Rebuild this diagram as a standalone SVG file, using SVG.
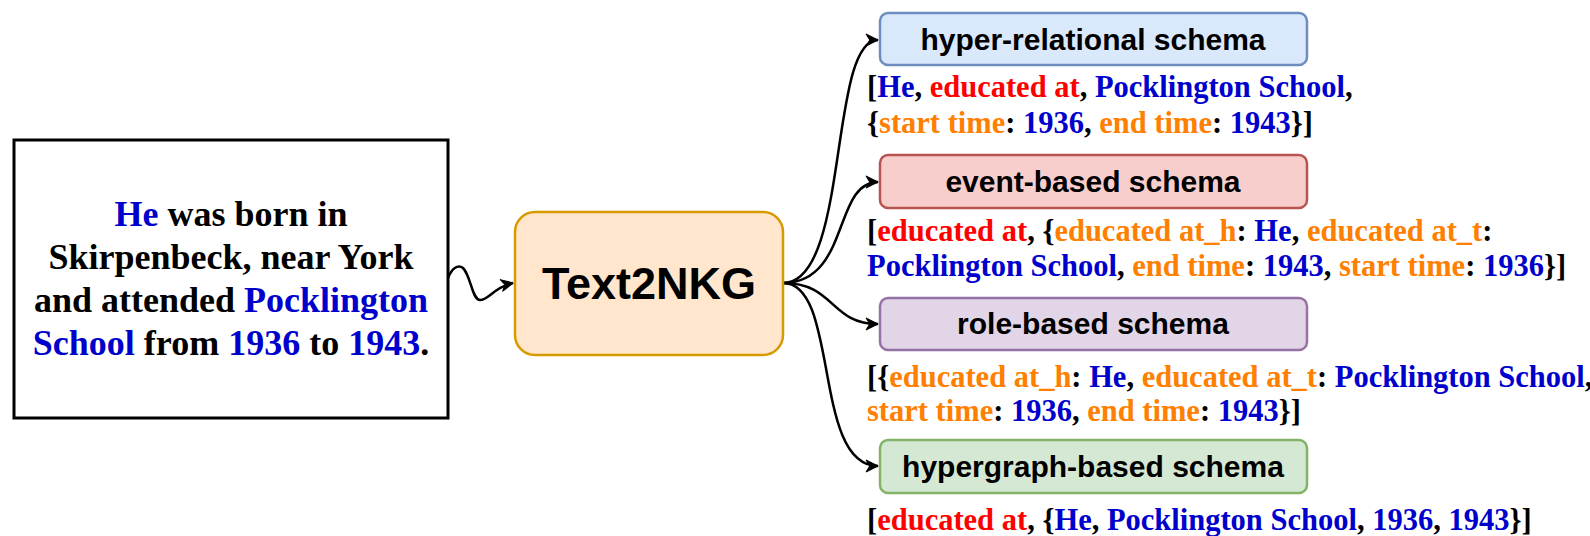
<svg xmlns="http://www.w3.org/2000/svg" width="1590" height="536" viewBox="0 0 1590 536">
<style>
.bg{fill:#ffffff}
.src{fill:#ffffff;stroke:#000000;stroke-width:3}
.srctxt{font-family:"Liberation Serif","Times New Roman",serif;font-weight:bold;font-size:36px;fill:#000000;text-anchor:middle}
.core{fill:#ffe6cc;stroke:#d79b00;stroke-width:2.5}
.coretxt{font-family:"Liberation Sans",Arial,sans-serif;font-weight:bold;font-size:45px;fill:#000000;text-anchor:middle}
.lbl{font-family:"Liberation Sans",Arial,sans-serif;font-weight:bold;font-size:30px;fill:#000000;text-anchor:middle}
.out{font-family:"Liberation Serif","Times New Roman",serif;font-weight:bold;font-size:30.5px;fill:#000000}
.b{fill:#0000cc}
.r{fill:#ff0000}
.o{fill:#ff8000}
.edge{fill:none;stroke:#000000;stroke-width:2.5}
.hr{fill:#dae8fc;stroke:#6c8ebf;stroke-width:2.5}
.ev{fill:#f8cecc;stroke:#b85450;stroke-width:2.5}
.ro{fill:#e1d5e7;stroke:#9673a6;stroke-width:2.5}
.hg{fill:#d5e8d4;stroke:#82b366;stroke-width:2.5}
</style>
<defs>
<marker id="arr" viewBox="0 0 12 12" refX="11" refY="6" markerWidth="14" markerHeight="14" markerUnits="userSpaceOnUse" orient="auto">
<path d="M1,1 L11,6 L1,11 L4,6 Z" fill="#000000" stroke="#000000" stroke-width="1" stroke-linejoin="round"/>
</marker>
</defs>
<rect class="bg" x="0" y="0" width="1590" height="536"/>

<g id="connectors">
<path class="edge" marker-end="url(#arr)" d="M448,278 C452,268 458,264 463,268 C471,276 472,300 480,300 C489,300 494,287 513,283"/>
<path class="edge" marker-end="url(#arr)" d="M783,283 C850,283 828,40 878,40"/>
<path class="edge" marker-end="url(#arr)" d="M783,283 C850,283 833,182 878,182"/>
<path class="edge" marker-end="url(#arr)" d="M783,283 C835,283 830,324 878,324"/>
<path class="edge" marker-end="url(#arr)" d="M783,283 C840,283 812,466 878,466"/>
</g>

<g id="source">
<rect class="src" x="14" y="140" width="434" height="278"/>
<text class="srctxt" x="231" y="226"><tspan class="b">He</tspan> was born in</text>
<text class="srctxt" x="231" y="269">Skirpenbeck, near York</text>
<text class="srctxt" x="231" y="312">and attended <tspan class="b">Pocklington</tspan></text>
<text class="srctxt" x="231" y="355"><tspan class="b">School</tspan> from <tspan class="b">1936</tspan> to <tspan class="b">1943</tspan>.</text>
</g>

<g id="text2nkg">
<rect class="core" x="515" y="212" width="268" height="143" rx="20" ry="20"/>
<text class="coretxt" x="649" y="299">Text2NKG</text>
</g>

<g id="hyper-relational">
<rect class="hr" x="880" y="13" width="427" height="52" rx="8" ry="8"/>
<text class="lbl" x="1093" y="50">hyper-relational schema</text>
<text class="out" x="867" y="97">[<tspan class="b">He</tspan>, <tspan class="r">educated at</tspan>, <tspan class="b">Pocklington School</tspan>,</text>
<text class="out" x="867" y="133">{<tspan class="o">start time</tspan>: <tspan class="b">1936</tspan>, <tspan class="o">end time</tspan>: <tspan class="b">1943</tspan>}]</text>
</g>

<g id="event-based">
<rect class="ev" x="880" y="155" width="427" height="53" rx="8" ry="8"/>
<text class="lbl" x="1093" y="192">event-based schema</text>
<text class="out" x="867" y="241">[<tspan class="r">educated at</tspan>, {<tspan class="o">educated at_h</tspan>: <tspan class="b">He</tspan>, <tspan class="o">educated at_t</tspan>:</text>
<text class="out" x="867" y="276"><tspan class="b">Pocklington School</tspan>, <tspan class="o">end time</tspan>: <tspan class="b">1943</tspan>, <tspan class="o">start time</tspan>: <tspan class="b">1936</tspan>}]</text>
</g>

<g id="role-based">
<rect class="ro" x="880" y="298" width="427" height="52" rx="8" ry="8"/>
<text class="lbl" x="1093" y="334">role-based schema</text>
<text class="out" x="867" y="387">[{<tspan class="o">educated at_h</tspan>: <tspan class="b">He</tspan>, <tspan class="o">educated at_t</tspan>: <tspan class="b">Pocklington School</tspan>,</text>
<text class="out" x="867" y="421"><tspan class="o">start time</tspan>: <tspan class="b">1936</tspan>, <tspan class="o">end time</tspan>: <tspan class="b">1943</tspan>}]</text>
</g>

<g id="hypergraph-based">
<rect class="hg" x="880" y="440" width="427" height="53" rx="8" ry="8"/>
<text class="lbl" x="1093" y="477">hypergraph-based schema</text>
<text class="out" x="867" y="530">[<tspan class="r">educated at</tspan>, {<tspan class="b">He</tspan>, <tspan class="b">Pocklington School</tspan>, <tspan class="b">1936</tspan>, <tspan class="b">1943</tspan>}]</text>
</g>
</svg>
